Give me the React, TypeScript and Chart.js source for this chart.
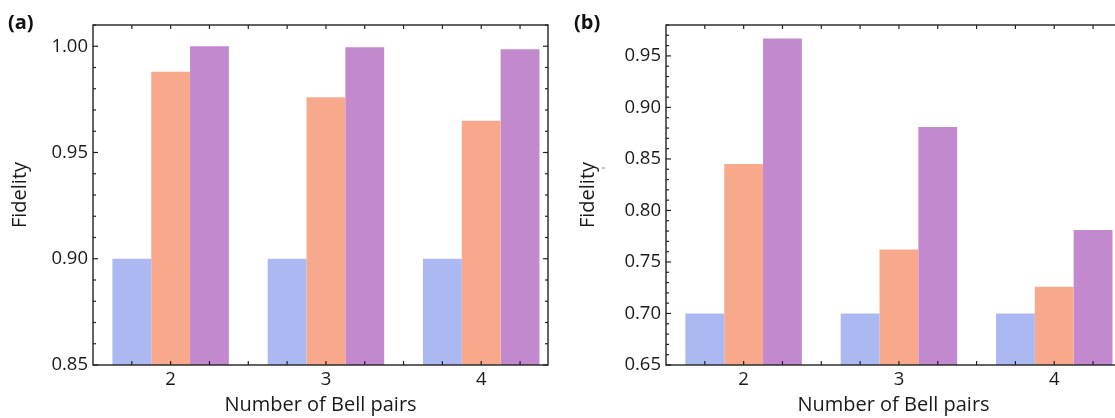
import React, { useEffect, useRef } from "react";
import { Chart, registerables } from "chart.js";

Chart.register(...registerables);

// ---- data ----
const bellPairs = [2, 3, 4];
const xTickLabels = ["2", "3", "4"];
const seriesNames = ["Series 1", "Series 2", "Series 3"];

const panelA_blue = [0.9, 0.9, 0.9];
const panelA_orange = [0.988, 0.976, 0.965];
const panelA_purple = [1.0, 0.9995, 0.9986];
const panelA_yTicks = [0.85, 0.9, 0.95, 1.0];

const panelB_blue = [0.7, 0.7, 0.7];
const panelB_orange = [0.845, 0.762, 0.726];
const panelB_purple = [0.967, 0.881, 0.781];
const panelB_yTicks = [0.65, 0.7, 0.75, 0.8, 0.85, 0.9, 0.95];

const COLORS = ["#abb8f2", "#f9a98b", "#c289ce"];
const FONT = '"Open Sans", "Noto Sans", sans-serif';
const TEXT = "#1a1a1a";
const AXIS = "#222222";

const framePlugin = {
  id: "frame",
  afterDraw(chart: any, _args: any, opts: any) {
    const { ctx, chartArea, scales } = chart;
    const { left, right, top, bottom } = chartArea;
    const x = scales.x;
    const y = scales.y;
    ctx.save();
    ctx.strokeStyle = AXIS;
    ctx.lineWidth = 1.2;
    const line = (x1: number, y1: number, x2: number, y2: number) => {
      ctx.beginPath();
      ctx.moveTo(x1, y1);
      ctx.lineTo(x2, y2);
      ctx.stroke();
    };
    // y ticks (minor every 0.01, major every 0.05)
    const k0 = Math.ceil(y.min * 100 - 1e-6);
    const k1 = Math.floor(y.max * 100 + 1e-6);
    for (let k = k0; k <= k1; k++) {
      const py = y.getPixelForValue(k / 100);
      const len = k % 5 === 0 ? 5 : 3;
      line(left, py, left + len, py);
      line(right, py, right - len, py);
    }
    // x ticks every quarter
    const q0 = Math.ceil(x.min * 4 + 1e-6);
    const q1 = Math.floor(x.max * 4 - 1e-6);
    for (let q = q0; q <= q1; q++) {
      const px = x.getPixelForValue(q / 4);
      line(px, bottom, px, bottom - 4);
      line(px, top, px, top + 4);
    }
    // frame
    ctx.lineWidth = 1.4;
    ctx.strokeRect(left, top, right - left, bottom - top);
    // panel label
    ctx.fillStyle = "#111";
    ctx.font = 'bold 20px ' + FONT;
    ctx.textBaseline = "alphabetic";
    ctx.textAlign = "left";
    ctx.fillText(opts.label, opts.labelX, opts.labelY);
    if (opts.stray) {
      ctx.strokeStyle = "#888";
      ctx.lineWidth = 1;
      line(opts.stray[0], opts.stray[1], opts.stray[0] + 3, opts.stray[1]);
    }
    ctx.restore();
  },
};

type PanelProps = {
  left: number;
  label: string;
  labelX: number;
  titlePad: number;
  blue: number[];
  orange: number[];
  purple: number[];
  yMin: number;
  yMax: number;
  yTicks: number[];
  stray?: number[];
};

function Panel(p: PanelProps) {
  const ref = useRef<HTMLCanvasElement>(null);
  useEffect(() => {
    const mk = (vals: number[]) => bellPairs.map((b, i) => ({ x: b, y: vals[i] }));
    const chart = new Chart(ref.current as HTMLCanvasElement, {
      type: "bar",
      data: {
        datasets: [
          { label: seriesNames[0], data: mk(p.blue) as any, backgroundColor: COLORS[0], borderWidth: 0 },
          { label: seriesNames[1], data: mk(p.orange) as any, backgroundColor: COLORS[1], borderWidth: 0 },
          { label: seriesNames[2], data: mk(p.purple) as any, backgroundColor: COLORS[2], borderWidth: 0 },
        ],
      },
      options: {
        responsive: false,
        animation: false,
        devicePixelRatio: 1,
        layout: { padding: { top: 25, right: 12, left: 0, bottom: 0 } },
        datasets: { bar: { categoryPercentage: 0.75, barPercentage: 1.0 } } as any,
        plugins: {
          legend: { display: false },
          tooltip: { enabled: false },
          frame: { label: p.label, labelX: p.labelX, labelY: 29, stray: p.stray },
        } as any,
        scales: {
          x: {
            type: "linear",
            min: 1.5,
            max: 4.43,
            offset: false,
            afterBuildTicks: (s: any) => {
              s.ticks = bellPairs.map((v) => ({ value: v }));
            },
            afterFit: (s: any) => {
              s.height = 53;
            },
            grid: { display: false, drawTicks: false },
            border: { display: false },
            ticks: {
              autoSkip: false,
              maxRotation: 0,
              padding: 4,
              color: TEXT,
              font: { family: FONT, size: 18.5 },
              callback: (v: any) => {
                const i = bellPairs.indexOf(Number(v));
                return i >= 0 ? xTickLabels[i] : "";
              },
            },
            title: {
              display: true,
              text: "Number of Bell pairs",
              color: TEXT,
              font: { family: FONT, size: 20 },
              padding: { top: 0, bottom: 1 },
            },
          },
          y: {
            type: "linear",
            min: p.yMin,
            max: p.yMax,
            afterBuildTicks: (s: any) => {
              s.ticks = p.yTicks.map((v) => ({ value: v }));
            },
            afterFit: (s: any) => {
              s.width = 93;
            },
            grid: { display: false, drawTicks: false },
            border: { display: false },
            ticks: {
              autoSkip: false,
              padding: 5,
              color: TEXT,
              font: { family: FONT, size: 18.5 },
              callback: (v: any) => Number(v).toFixed(2),
            },
            title: {
              display: true,
              text: "Fidelity",
              color: TEXT,
              font: { family: FONT, size: 20 },
              padding: { top: p.titlePad, bottom: 0 },
            },
          },
        },
      },
      plugins: [framePlugin as any],
    });
    return () => chart.destroy();
  }, []);
  return (
    <canvas
      ref={ref}
      width={560}
      height={418}
      style={{ position: "absolute", left: p.left, top: 0, width: 560, height: 418 }}
    />
  );
}

export default function App() {
  return (
    <div
      style={{
        position: "fixed",
        left: 0,
        top: 0,
        width: 1115,
        height: 418,
        overflow: "hidden",
        background: "#ffffff",
      }}
    >
      <Panel
        left={0}
        label="(a)"
        labelX={8}
        titlePad={8}
        blue={panelA_blue}
        orange={panelA_orange}
        purple={panelA_purple}
        yMin={0.85}
        yMax={1.01}
        yTicks={panelA_yTicks}
      />
      <Panel
        left={573}
        label="(b)"
        labelX={1}
        titlePad={3}
        blue={panelB_blue}
        orange={panelB_orange}
        purple={panelB_purple}
        yMin={0.65}
        yMax={0.98}
        yTicks={panelB_yTicks}
        stray={[29, 168]}
      />
    </div>
  );
}
